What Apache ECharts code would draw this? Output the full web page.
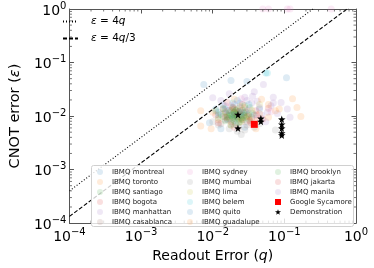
<!DOCTYPE html>
<html><head><meta charset="utf-8">
<script src="https://cdn.jsdelivr.net/npm/echarts@6/dist/echarts.min.js"></script>
<style>html,body{margin:0;padding:0;background:#fff}#c{width:374px;height:268px}</style>
</head><body><div id="c"></div>
<script>
// ---- data (q = readout error, eps = CNOT error) ----
const montreal=[[0.0075,0.039],[0.018,0.046],[0.012,0.0105],[0.016,0.0088],[0.021,0.0125],[0.026,0.0095],[0.009,0.0075],[0.014,0.016],[0.032,0.011],[0.019,0.0072],[0.011,0.0135],[0.024,0.0175],[0.045,0.0135],[0.017,0.0105],[0.028,0.0062],[0.013,0.0058]];
const toronto=[[0.0068,0.0065],[0.0095,0.0058],[0.015,0.012],[0.022,0.0098],[0.035,0.0085],[0.06,0.0095],[0.13,0.021],[0.17,0.0098],[0.028,0.0145],[0.018,0.0068],[0.045,0.011],[0.012,0.0085],[0.075,0.0125],[0.025,0.0078],[0.04,0.0058],[0.02,0.0205]];
const santiago=[[0.016,0.0105],[0.019,0.0095],[0.021,0.011],[0.023,0.0088],[0.018,0.0125],[0.025,0.0102],[0.02,0.0082],[0.022,0.0135],[0.017,0.009],[0.027,0.0115],[0.015,0.0115],[0.024,0.0078],[0.019,0.0148],[0.029,0.0092],[0.014,0.0098],[0.021,0.0072],[0.026,0.0128],[0.031,0.0105],[0.012,0.0092],[0.033,0.0145]];
const bogota=[[0.014,0.0135],[0.022,0.0115],[0.03,0.0098],[0.018,0.0078],[0.04,0.0125],[0.026,0.0165],[0.011,0.0105],[0.05,0.0088],[0.02,0.0062],[0.034,0.0075],[0.016,0.018],[0.06,0.014]];
const manhattan=[[0.051,0.039],[0.01,0.022],[0.013,0.0195],[0.028,0.0225],[0.042,0.019],[0.065,0.0155],[0.08,0.0112],[0.11,0.0135],[0.035,0.0175],[0.024,0.0145],[0.015,0.0155],[0.09,0.018],[0.048,0.0105],[0.02,0.0118],[0.12,0.0095],[0.038,0.0285],[0.017,0.026],[0.07,0.0225],[0.055,0.0078],[0.03,0.0128]];
const casablanca=[[0.016,0.0085],[0.021,0.0098],[0.026,0.0085],[0.019,0.0108],[0.013,0.0072],[0.03,0.0068],[0.023,0.0062],[0.017,0.0128],[0.035,0.0095],[0.028,0.0118]];
const sydney=[[0.05,1],[0.06,1],[0.11,1],[0.12,1],[0.45,1],[0.018,0.0155],[0.025,0.021],[0.032,0.0135],[0.014,0.011],[0.042,0.0092],[0.022,0.0082],[0.065,0.012]];
const mumbai=[[0.012,0.0068],[0.017,0.0058],[0.022,0.0052],[0.028,0.0055],[0.038,0.0062],[0.075,0.0055],[0.015,0.0085],[0.03,0.0078],[0.02,0.0098],[0.045,0.0072],[0.025,0.0045],[0.01,0.0078]];
const lima=[[0.02,0.0115],[0.028,0.0095],[0.035,0.0128],[0.016,0.0095],[0.045,0.0165],[0.024,0.0152]];
const belem=[[0.055,0.064],[0.058,0.064],[0.015,0.0135],[0.025,0.0118],[0.032,0.0165],[0.019,0.0175]];
const quito=[[0.03,0.044],[0.107,0.052],[0.012,0.0118],[0.02,0.0105],[0.038,0.0105],[0.022,0.0195]];
const guadalupe=[[0.048,0.0205],[0.06,0.0165],[0.085,0.0135],[0.032,0.0098],[0.02,0.0135],[0.15,0.0145],[0.01,0.0118],[0.042,0.0082],[0.025,0.0088],[0.0068,0.0125]];
const brooklyn=[[0.018,0.0102],[0.02,0.0118],[0.022,0.0095],[0.024,0.0108],[0.019,0.0088],[0.021,0.0128],[0.017,0.0115],[0.025,0.0092],[0.023,0.0122],[0.016,0.0098],[0.027,0.0102],[0.02,0.0092],[0.022,0.0105],[0.019,0.0135],[0.026,0.0085],[0.013,0.0108],[0.029,0.0118],[0.015,0.0082],[0.032,0.0088],[0.023,0.0075],[0.018,0.0068],[0.036,0.0112],[0.011,0.0125],[0.028,0.0155],[0.014,0.0138]];
const jakarta=[[0.015,0.0095],[0.024,0.0125],[0.033,0.0082],[0.019,0.0145],[0.041,0.0105],[0.012,0.0075]];
const manila=[[0.02,0.0165],[0.03,0.0195],[0.045,0.0145],[0.025,0.0108],[0.016,0.0125],[0.058,0.0118],[0.036,0.0235],[0.07,0.0175]];
const sycamore=[[0.038,0.007]];
const demonstration=[[0.0225,0.0106],[0.0225,0.0059],[0.047,0.009],[0.047,0.0079],[0.092,0.0087],[0.092,0.007],[0.092,0.0059],[0.092,0.0048],[0.092,0.0044]];
// reference lines endpoints
const lineQ=[1e-4,1];
const eps4q=[4e-4,4];
const eps4q3=[1.3333e-4,1.3333];
// ticks
const minorMant=[2,3,4,5,6,7,8,9];
const decades=[1e-4,1e-3,1e-2,1e-1];

const devices=[
 ['IBMQ montreal',montreal,'#1f77b4'],['IBMQ toronto',toronto,'#ff7f0e'],['IBMQ santiago',santiago,'#2ca02c'],
 ['IBMQ bogota',bogota,'#d62728'],['IBMQ manhattan',manhattan,'#9467bd'],['IBMQ casablanca',casablanca,'#8c564b'],
 ['IBMQ sydney',sydney,'#e377c2'],['IBMQ mumbai',mumbai,'#7f7f7f'],['IBMQ lima',lima,'#bcbd22'],
 ['IBMQ belem',belem,'#17becf'],['IBMQ quito',quito,'#1f77b4'],['IBMQ guadalupe',guadalupe,'#ff7f0e'],
 ['IBMQ brooklyn',brooklyn,'#2ca02c'],['IBMQ jakarta',jakarta,'#d62728'],['IBMQ manila',manila,'#9467bd']
];
const ALPHA=0.15;
const STAR='path://M0,-10L2.35,-3.24L9.51,-3.09L3.8,1.24L5.88,8.09L0,4L-5.88,8.09L-3.8,1.24L-9.51,-3.09L-2.35,-3.24Z';
const minorVals=[];
decades.forEach(d=>minorMant.forEach(m=>minorVals.push(m*d)));

const FONT='DejaVu Sans';
const AX='#555';
function logLabel(v){
  const e=Math.round(Math.log10(v));
  return '{b|10}{s|'+(e<0?'\u2212'+(-e):String(e))+'}';
}
const richLab={b:{fontSize:14,fontFamily:FONT,color:'#000',verticalAlign:'bottom',lineHeight:18},
               s:{fontSize:10,fontFamily:FONT,color:'#000',verticalAlign:'top',lineHeight:18,padding:[1,0,0,0]}};

const series=[];
devices.forEach(d=>{
  series.push({name:d[0],type:'scatter',data:d[1],symbol:'circle',symbolSize:7,
    itemStyle:{color:d[2],opacity:ALPHA},z:2,silent:true});
});
series.push({name:'Google Sycamore',type:'scatter',data:sycamore,symbol:'rect',symbolSize:7,itemStyle:{color:'#ff0000',opacity:1},z:4});
series.push({name:'Demonstration',type:'scatter',data:demonstration,symbol:STAR,symbolSize:7.5,itemStyle:{color:'#000',opacity:1},z:5});
series.push({name:'ε = 4q',type:'line',data:[[lineQ[0],eps4q[0]],[lineQ[1],eps4q[1]]],symbol:'none',
  itemStyle:{color:'#000'},lineStyle:{color:'#000',width:1.1,type:[1,2]},z:3,clip:true});
series.push({name:'ε = 4q/3',type:'line',data:[[lineQ[0],eps4q3[0]],[lineQ[1],eps4q3[1]]],symbol:'none',
  itemStyle:{color:'#000'},lineStyle:{color:'#000',width:1.1,type:[4,2]},z:3,clip:true});
// minor ticks, drawn through the axes' scales
series.push({type:'custom',silent:true,clip:false,z:6,data:minorVals.map(v=>[v]),
  renderItem:function(p,api){
    const v=api.value(0);
    const b=api.coord([v,1e-4]), t=api.coord([v,1]);
    return {type:'group',children:[
      {type:'line',shape:{x1:b[0],y1:b[1],x2:b[0],y2:b[1]-2.5},style:{stroke:AX,lineWidth:0.8}},
      {type:'line',shape:{x1:t[0],y1:t[1],x2:t[0],y2:t[1]+2.5},style:{stroke:AX,lineWidth:0.8}}]};
  }});
series.push({type:'custom',silent:true,clip:false,z:6,data:minorVals.map(v=>[v]),
  renderItem:function(p,api){
    const v=api.value(0);
    const l=api.coord([1e-4,v]), r=api.coord([1,v]);
    return {type:'group',children:[
      {type:'line',shape:{x1:l[0],y1:l[1],x2:l[0]+2.5,y2:l[1]},style:{stroke:AX,lineWidth:0.8}},
      {type:'line',shape:{x1:r[0],y1:r[1],x2:r[0]-2.5,y2:r[1]},style:{stroke:AX,lineWidth:0.8}}]};
  },encode:{y:0,x:-1}});

const col1=devices.slice(0,6).map(d=>({name:d[0],icon:'circle',itemStyle:{opacity:ALPHA}}));
const col2=devices.slice(6,12).map(d=>({name:d[0],icon:'circle',itemStyle:{opacity:ALPHA}}));
const col3=devices.slice(12,15).map(d=>({name:d[0],icon:'circle',itemStyle:{opacity:ALPHA}}));
col3.push({name:'Google Sycamore',icon:'rect'});
col3.push({name:'Demonstration',icon:STAR});
const legBase={orient:'vertical',itemWidth:6,itemHeight:6,itemGap:2,selectedMode:false,z:60,padding:0,
  textStyle:{fontSize:7,fontFamily:FONT,color:'#222',lineHeight:8,padding:[0,0,0,4]}};

const option={
  animation:false,
  grid:{left:55,right:18,top:9,bottom:38},
  xAxis:[
   {type:'log',logBase:10,min:1e-4,max:1,position:'bottom',
    axisLine:{show:true,lineStyle:{color:AX,width:1}},
    axisTick:{show:true,inside:true,length:4.5,lineStyle:{color:AX}},
    splitLine:{show:false},
    axisLabel:{formatter:logLabel,rich:richLab,margin:3},
    name:'Readout Error ({i|q})',nameLocation:'middle',nameGap:24,
    nameTextStyle:{fontSize:14,fontFamily:FONT,color:'#000',rich:{i:{fontSize:14,fontFamily:FONT,fontStyle:'italic',color:'#000'}}}},
   {type:'log',logBase:10,min:1e-4,max:1,position:'top',
    axisLine:{show:true,lineStyle:{color:AX,width:1}},
    axisTick:{show:true,inside:true,length:4.5,lineStyle:{color:AX}},
    splitLine:{show:false},axisLabel:{show:false}}
  ],
  yAxis:[
   {type:'log',logBase:10,min:1e-4,max:1,position:'left',
    axisLine:{show:true,lineStyle:{color:AX,width:1}},
    axisTick:{show:true,inside:true,length:4.5,lineStyle:{color:AX}},
    splitLine:{show:false},
    axisLabel:{formatter:logLabel,rich:richLab,margin:3},
    name:'CNOT error ({i|ε})',nameLocation:'middle',nameGap:34,
    nameTextStyle:{fontSize:14.5,fontFamily:FONT,color:'#000',rich:{i:{fontSize:14.5,fontFamily:FONT,fontStyle:'italic',color:'#000'}}}},
   {type:'log',logBase:10,min:1e-4,max:1,position:'right',
    axisLine:{show:true,lineStyle:{color:AX,width:1}},
    axisTick:{show:true,inside:true,length:4.5,lineStyle:{color:AX}},
    splitLine:{show:false},axisLabel:{show:false}}
  ],
  legend:[
   {orient:'vertical',left:62,top:16,itemWidth:15,itemHeight:8,itemGap:6,selectedMode:false,padding:0,
    data:[{name:'ε = 4q',itemStyle:{opacity:0}},{name:'ε = 4q/3',itemStyle:{opacity:0}}],
    lineStyle:{color:'#000'},
    formatter:function(n){return n==='ε = 4q'?'{i|ε} = 4{i|q}':'{i|ε} = 4{i|q}/3';},
    textStyle:{fontSize:10.5,fontFamily:FONT,color:'#000',padding:[0,0,0,8],
      rich:{i:{fontSize:10.5,fontFamily:FONT,fontStyle:'italic',color:'#000'}}}},
   Object.assign({},legBase,{left:97,top:168,data:col1}),
   Object.assign({},legBase,{left:187,top:168,data:col2}),
   Object.assign({},legBase,{left:275,top:168,data:col3})
  ],
  graphic:[{type:'rect',left:91,top:165,z:50,shape:{width:262,height:61,r:2},
    style:{fill:'rgba(255,255,255,0.8)',stroke:'#d0d0d0',lineWidth:1}}],
  series:series
};
const chart=echarts.init(document.getElementById('c'),null,{renderer:'canvas'});
chart.setOption(option);
</script></body></html>
